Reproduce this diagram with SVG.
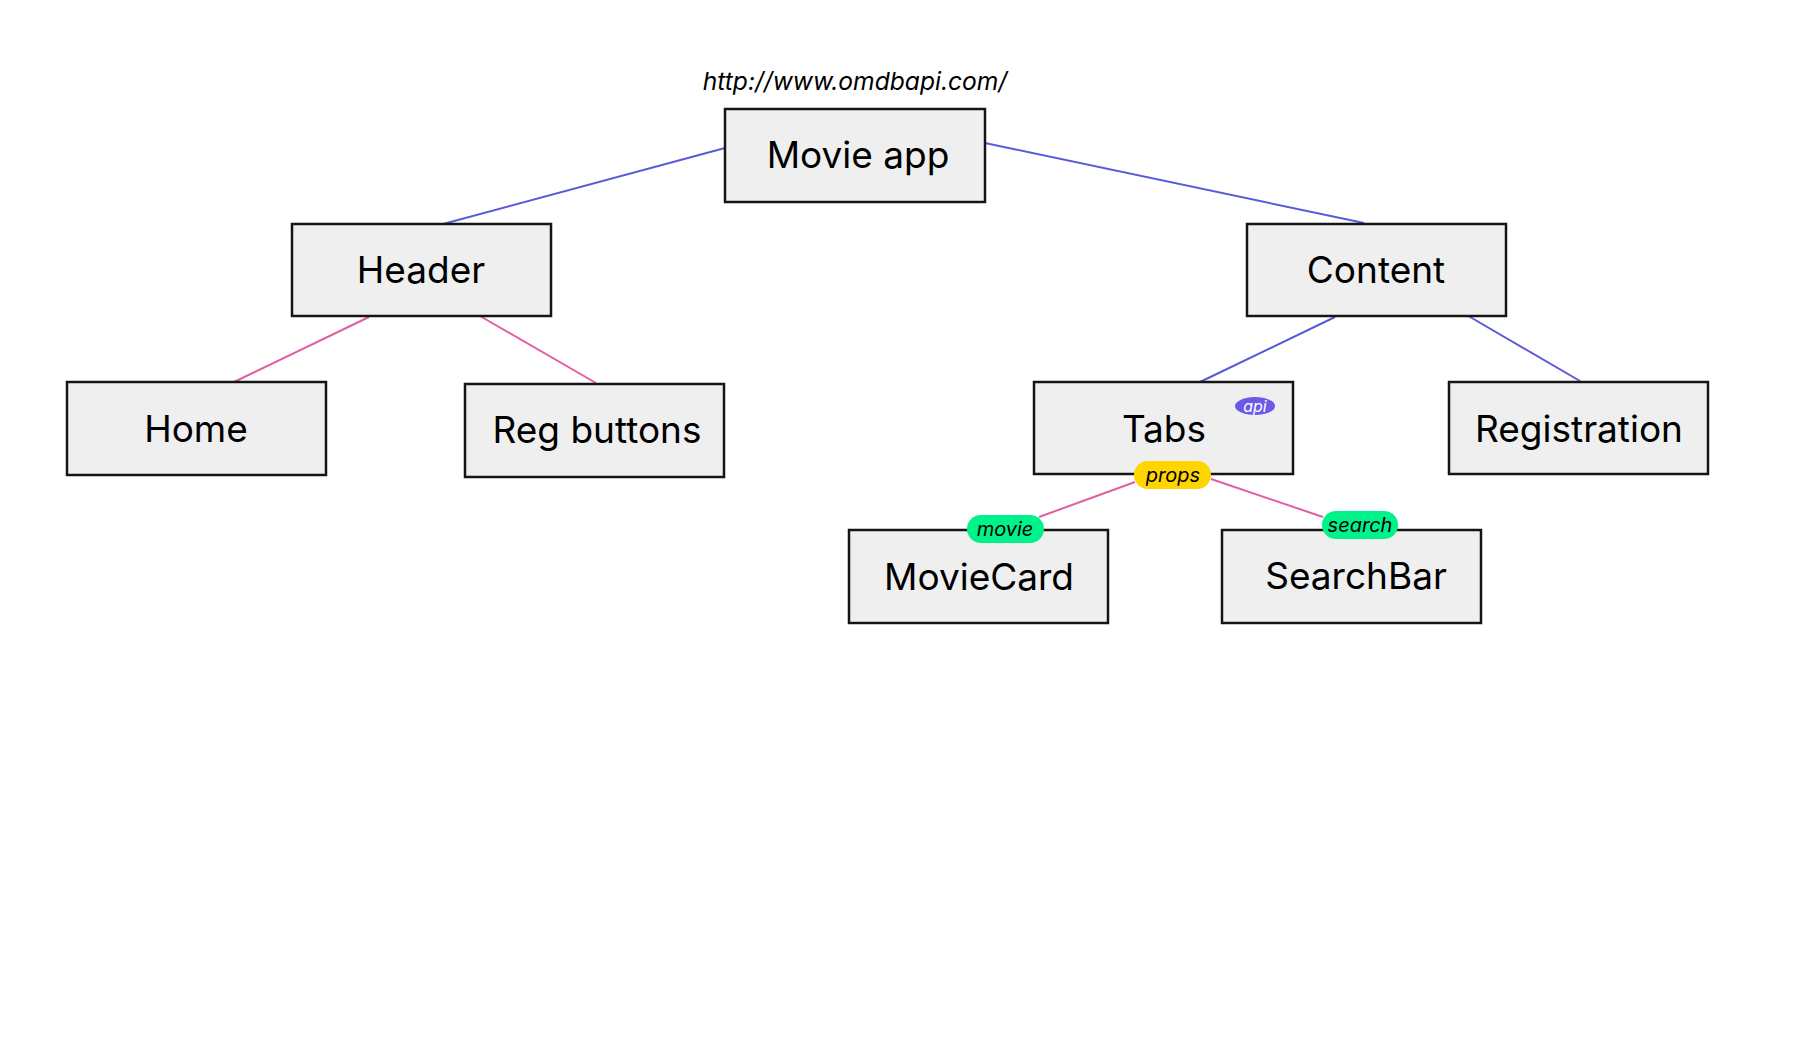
<svg xmlns="http://www.w3.org/2000/svg" width="1817" height="1061" viewBox="0 0 1817 1061">
<style>
.box{fill:#efefef;stroke:#151515;stroke-width:2.5}
.lbl{font-family:Inter,"Liberation Sans",sans-serif;font-size:37px;fill:#000;text-anchor:middle}
.it{font-family:Inter,"Liberation Sans",sans-serif;font-style:italic;text-anchor:middle}
.blue{stroke:#5a5ad8;stroke-width:2;fill:none}
.pink{stroke:#e25ea3;stroke-width:2;fill:none}
.pill{stroke:none}
</style>
<rect width="1817" height="1061" fill="#fff"/>
<g id="connectors">
<line class="blue" x1="725" y1="148" x2="443" y2="224"/>
<line class="blue" x1="985" y1="143" x2="1364" y2="223"/>
<line class="pink" x1="369" y1="317" x2="234" y2="382"/>
<line class="pink" x1="480" y1="316" x2="596" y2="383"/>
<line class="blue" x1="1335" y1="317" x2="1200" y2="382"/>
<line class="blue" x1="1465" y1="314" x2="1580" y2="381"/>
<line class="pink" x1="1135" y1="482" x2="1039" y2="517"/>
<line class="pink" x1="1211" y1="479" x2="1323" y2="517"/>
</g>
<g id="url-label">
<text class="it" x="855" y="90" font-size="24.6" fill="#000">http://www.omdbapi.com/</text>
</g>
<g id="movie-app">
<rect class="box" x="725" y="109" width="260" height="93"/>
<text class="lbl" x="858" y="168">Movie app</text>
</g>
<g id="header">
<rect class="box" x="292" y="224" width="259" height="92"/>
<text class="lbl" x="421" y="283">Header</text>
</g>
<g id="content">
<rect class="box" x="1247" y="224" width="259" height="92"/>
<text class="lbl" x="1376" y="283">Content</text>
</g>
<g id="home">
<rect class="box" x="67" y="382" width="259" height="93"/>
<text class="lbl" x="196" y="442">Home</text>
</g>
<g id="reg-buttons">
<rect class="box" x="465" y="384" width="259" height="93"/>
<text class="lbl" x="597" y="443">Reg buttons</text>
</g>
<g id="tabs">
<rect class="box" x="1034" y="382" width="259" height="92"/>
<text class="lbl" x="1164" y="442">Tabs</text>
<ellipse class="pill" cx="1255" cy="406" rx="20" ry="9" fill="#6a5ae6"/>
<text class="it" x="1255" y="412" font-size="16" fill="#fff">api</text>
</g>
<g id="registration">
<rect class="box" x="1449" y="382" width="259" height="92"/>
<text class="lbl" x="1579" y="442">Registration</text>
</g>
<g id="moviecard">
<rect class="box" x="849" y="530" width="259" height="93"/>
<text class="lbl" x="979" y="590">MovieCard</text>
</g>
<g id="searchbar">
<rect class="box" x="1222" y="530" width="259" height="93"/>
<text class="lbl" x="1356" y="589">SearchBar</text>
</g>
<g id="props">
<rect class="pill" x="1134" y="461" width="77" height="28" rx="14" fill="#ffd500"/>
<text class="it" x="1173" y="482" font-size="20" fill="#000">props</text>
</g>
<g id="movie">
<rect class="pill" x="967" y="515" width="77" height="28" rx="14" fill="#00f28a"/>
<text class="it" x="1005" y="536" font-size="20" fill="#000">movie</text>
</g>
<g id="search">
<rect class="pill" x="1322" y="511" width="76" height="28" rx="14" fill="#00f28a"/>
<text class="it" x="1360" y="532" font-size="20" fill="#000">search</text>
</g>
</svg>
